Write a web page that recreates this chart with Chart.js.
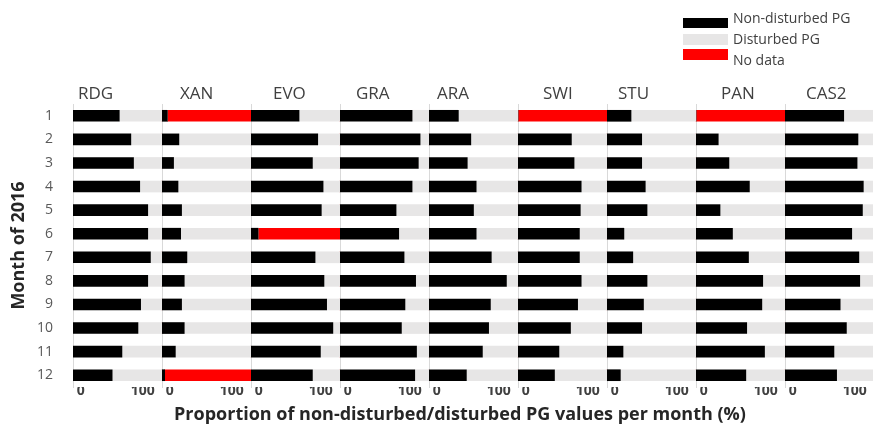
<!DOCTYPE html>
<html>
<head>
<meta charset="utf-8">
<script src="https://cdn.jsdelivr.net/npm/chart.js@4.4.1/dist/chart.umd.min.js"></script>
<style>
  html, body { margin: 0; padding: 0; background: #ffffff; }
  #stage { position: relative; width: 873px; height: 431px; overflow: hidden; font-family: "Open Sans", sans-serif; }
  .panel { position: absolute; top: 0; height: 431px; }
  .ptitle { position: absolute; top: 82px; font-size: 17px; line-height: 22px; color: #404040; white-space: nowrap; }
  .xtitle { position: absolute; left: 110px; width: 700px; top: 402px; text-align: center; font-size: 18px; line-height: 22px; font-weight: bold; color: #262626; white-space: nowrap; }
  .lbox { position: absolute; left: 683px; width: 45px; height: 10.5px; }
  .ltext { position: absolute; left: 733px; font-size: 14px; line-height: 18px; color: #404040; white-space: nowrap; }
</style>
</head>
<body>
<div id="stage"></div>
<script>
// ---------------- DATA ----------------
const months = ['1','2','3','4','5','6','7','8','9','10','11','12'];
const stations = ['RDG','XAN','EVO','GRA','ARA','SWI','STU','PAN','CAS2'];
const seriesNames = ['Non-disturbed PG','Disturbed PG','No data'];
const xTickValues = [0, 100];

// proportion (%) per month: non-disturbed, disturbed, no data
const RDG_non  = [52,65,68,75,84,84,87,84,76,73,55,44];
const RDG_dist = [48,35,32,25,16,16,13,16,24,27,45,56];
const RDG_none = [0,0,0,0,0,0,0,0,0,0,0,0];

const XAN_non  = [6,19,13,18,22,21,28,25,22,25,15,3];
const XAN_dist = [0,81,87,82,78,79,72,75,78,75,85,0];
const XAN_none = [94,0,0,0,0,0,0,0,0,0,0,97];

const EVO_non  = [54,75,69,81,79,8,72,82,85,92,78,69];
const EVO_dist = [46,25,31,19,21,0,28,18,15,8,22,31];
const EVO_none = [0,0,0,0,0,92,0,0,0,0,0,0];

const GRA_non  = [81,90,88,81,63,66,72,85,73,69,86,84];
const GRA_dist = [19,10,12,19,37,34,28,15,27,31,14,16];
const GRA_none = [0,0,0,0,0,0,0,0,0,0,0,0];

const ARA_non  = [33,47,43,53,50,53,70,87,69,67,60,42];
const ARA_dist = [67,53,57,47,50,47,30,13,31,33,40,58];
const ARA_none = [0,0,0,0,0,0,0,0,0,0,0,0];

const SWI_non  = [0,60,63,71,70,69,69,71,67,59,46,41];
const SWI_dist = [0,40,37,29,30,31,31,29,33,41,54,59];
const SWI_none = [100,0,0,0,0,0,0,0,0,0,0,0];

const STU_non  = [27,39,39,43,45,19,29,45,41,39,18,15];
const STU_dist = [73,61,61,57,55,81,71,55,59,61,82,85];
const STU_none = [0,0,0,0,0,0,0,0,0,0,0,0];

const PAN_non  = [0,25,37,60,27,41,59,75,74,57,77,56];
const PAN_dist = [0,75,63,40,73,59,41,25,26,43,23,44];
const PAN_none = [100,0,0,0,0,0,0,0,0,0,0,0];

const CAS2_non  = [66,82,81,88,87,75,83,84,62,69,55,58];
const CAS2_dist = [34,18,19,12,13,25,17,16,38,31,45,42];
const CAS2_none = [0,0,0,0,0,0,0,0,0,0,0,0];

const stationSeries = [
  [RDG_non, RDG_dist, RDG_none],
  [XAN_non, XAN_dist, XAN_none],
  [EVO_non, EVO_dist, EVO_none],
  [GRA_non, GRA_dist, GRA_none],
  [ARA_non, ARA_dist, ARA_none],
  [SWI_non, SWI_dist, SWI_none],
  [STU_non, STU_dist, STU_none],
  [PAN_non, PAN_dist, PAN_none],
  [CAS2_non, CAS2_dist, CAS2_none]
];

// ---------------- STYLE / LAYOUT ----------------
const seriesColors = ['#000000', '#e7e6e6', '#ff0000'];
const FONT = '"Open Sans", sans-serif';
const PANEL_START = 73, PANEL_W = 89;
const AREA_TOP = 104, AREA_BOTTOM = 387, H = 431;
const titleLeft = [78, 180, 273, 356, 437, 543, 618, 721, 806];

const stage = document.getElementById('stage');

stations.forEach((name, i) => {
  const first = i === 0;
  const left = first ? 0 : PANEL_START + PANEL_W * i;
  const width = first ? PANEL_START + PANEL_W : PANEL_W;
  const wrap = document.createElement('div');
  wrap.className = 'panel';
  wrap.style.left = left + 'px';
  wrap.style.width = width + 'px';
  const cv = document.createElement('canvas');
  wrap.appendChild(cv);
  stage.appendChild(wrap);

  const t = document.createElement('div');
  t.className = 'ptitle';
  t.style.left = titleLeft[i] + 'px';
  t.textContent = name;
  stage.appendChild(t);

  const datasets = stationSeries[i].map((vals, k) => ({
    label: seriesNames[k],
    data: vals,
    backgroundColor: seriesColors[k],
    borderWidth: 0,
    barThickness: 11
  }));

  new Chart(cv, {
    type: 'bar',
    data: { labels: months, datasets },
    options: {
      indexAxis: 'y',
      responsive: true,
      maintainAspectRatio: false,
      animation: false,
      devicePixelRatio: 1,
      layout: { padding: { top: AREA_TOP, left: 0, right: 0, bottom: 0 } },
      plugins: { legend: { display: false }, tooltip: { enabled: false } },
      scales: {
        x: {
          stacked: true,
          min: 0, max: 100,
          afterBuildTicks: (s) => { s.ticks = xTickValues.map(v => ({ value: v })); },
          ticks: {
            align: 'inner', maxRotation: 0, minRotation: 0, padding: -4,
            color: '#404040', font: { family: FONT, size: 14, weight: 'bold' },
            // small spacing so neighbouring panels' "100" and "0" do not touch
            callback: (v) => v === 0 ? ' ' + v : v + '  '
          },
          grid: { display: false, drawTicks: false },
          border: { display: false },
          afterFit: (s) => { s.height = H - AREA_BOTTOM; }
        },
        y: {
          stacked: true,
          ticks: {
            display: first, padding: 20,
            color: '#595959', font: { family: FONT, size: 14 }
          },
          grid: { display: false, drawTicks: false },
          border: { display: true, color: '#d9d9d9', width: 1 },
          title: {
            display: first, text: 'Month of 2016', color: '#262626',
            font: { family: FONT, size: 18, weight: 'bold' },
            padding: { top: 8, bottom: 0 }
          },
          afterFit: (s) => { s.width = first ? PANEL_START : 0; }
        }
      }
    }
  });
});

// x-axis title
const xt = document.createElement('div');
xt.className = 'xtitle';
xt.textContent = 'Proportion of non-disturbed/disturbed PG values per month (%)';
stage.appendChild(xt);

// legend
const boxTops = [17.7, 34.3, 49.3];
const textTops = [8.5, 30, 50.5];
seriesNames.forEach((n, k) => {
  const b = document.createElement('div');
  b.className = 'lbox';
  b.style.top = boxTops[k] + 'px';
  b.style.background = seriesColors[k];
  stage.appendChild(b);
  const tx = document.createElement('div');
  tx.className = 'ltext';
  tx.style.top = textTops[k] + 'px';
  tx.textContent = n;
  stage.appendChild(tx);
});
</script>
</body>
</html>
